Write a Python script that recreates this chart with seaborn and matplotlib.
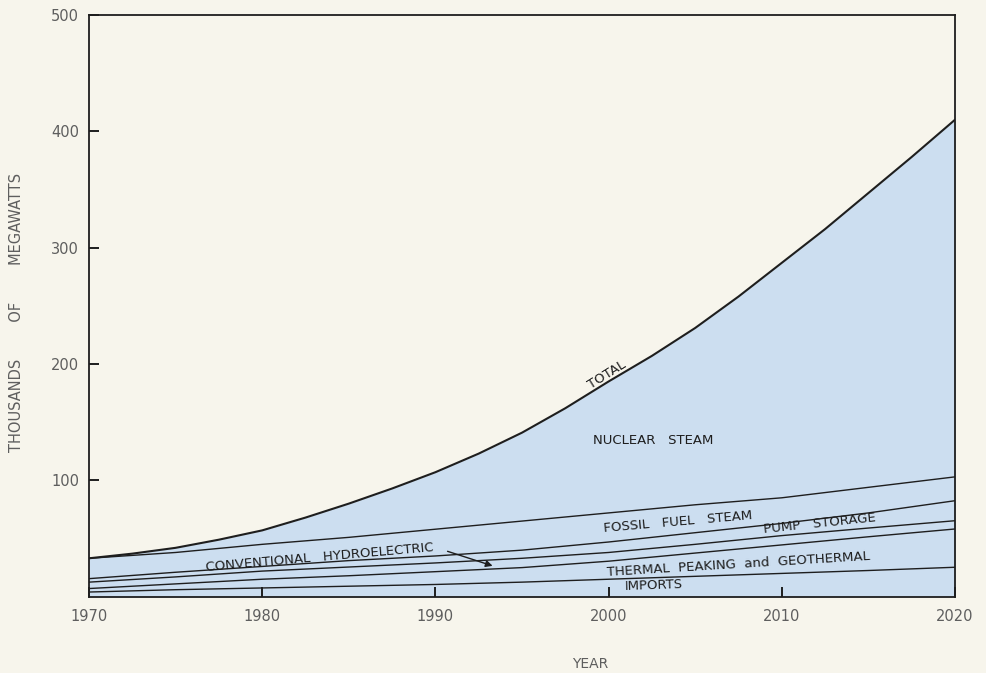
import numpy as np
import pandas as pd
import matplotlib
matplotlib.use("Agg")
import matplotlib.pyplot as plt
import seaborn as sns

# ---- data (thousands of megawatts) ----
years = [1970, 1975, 1980, 1985, 1990, 1995, 2000, 2005, 2010, 2015, 2020]
imports = [4, 6, 7.5, 9, 10.5, 12.5, 15, 17.5, 20, 22.5, 25.3]
thermal_peaking = [3, 5, 7.5, 9, 11, 12.5, 15.5, 20, 24.5, 29, 32.9]
conventional_hydro = [5.5, 6, 7, 7.5, 7.5, 8, 7.5, 7.5, 8, 7.5, 7.1]
pump_storage = [3, 4, 4, 5.5, 6, 7, 9, 10, 10.5, 13, 17.2]
fossil_steam = [17.5, 17, 19, 20, 23, 25, 25, 24, 22, 22, 20.5]

# total (top of nuclear steam band), read at half-decade steps
total_years = [1970, 1972.5, 1975, 1977.5, 1980, 1982.5, 1985, 1987.5, 1990,
               1992.5, 1995, 1997.5, 2000, 2002.5, 2005, 2007.5, 2010,
               2012.5, 2015, 2017.5, 2020]
total = [33, 37, 42, 49, 57, 68, 80, 93, 107, 123, 141, 162, 185, 207, 231,
         258, 287, 316, 347, 378, 410]

x_ticks = [1970, 1980, 1990, 2000, 2010, 2020]
y_ticks = [100, 200, 300, 400, 500]

BG = "#f7f5ec"
FILL = "#ccdef0"
INK = "#1e1e1e"
GREY = "#5e5e5e"

sns.set_theme(style="white")
plt.rcParams["font.family"] = ["DejaVu Sans"]

df = pd.DataFrame({
    "year": years,
    "imports": imports,
    "thermal": thermal_peaking,
    "hydro": conventional_hydro,
    "pump": pump_storage,
    "fossil": fossil_steam,
})
order = ["imports", "thermal", "hydro", "pump", "fossil"]
cum = df[order].cumsum(axis=1)
dt = pd.DataFrame({"year": total_years, "total": total})

fig = plt.figure(figsize=(9.87, 6.73), dpi=100, facecolor=BG)
ax = fig.add_axes([0.0902, 0.1134, 0.8774, 0.8643])
ax.set_facecolor(BG)
ax.set_axisbelow(False)

ax.fill_between(dt["year"], 0, dt["total"], color=FILL, lw=0, zorder=1)
for col in order:
    sns.lineplot(x=df["year"], y=cum[col], ax=ax, color=INK, lw=1.0, zorder=3)
sns.lineplot(x=dt["year"], y=dt["total"], ax=ax, color=INK, lw=1.5, zorder=3)

ax.set_xlim(1970, 2020)
ax.set_ylim(0, 500)
ax.set_xticks(x_ticks)
ax.set_xticklabels([str(v) for v in x_ticks])
ax.set_yticks(y_ticks)
ax.set_yticklabels([str(v) for v in y_ticks])
ax.tick_params(axis="both", which="major", direction="in", length=7,
               width=1.4, color=INK, labelsize=10.5, labelcolor=GREY,
               left=True, bottom=True, right=False, top=False)
ax.tick_params(axis="y", pad=7)
ax.tick_params(axis="x", pad=9)
ax.set_xlabel("")
ax.set_ylabel("")
for s in ax.spines.values():
    s.set_visible(True)
    s.set_color(INK)
    s.set_linewidth(1.3)

lab = dict(color=INK, fontsize=9.5, zorder=5)
ax.text(2000.1, 186, "TOTAL", rotation=32, rotation_mode="anchor",
        ha="center", va="bottom", **lab)
ax.text(2002.6, 134, "NUCLEAR   STEAM", ha="center", va="center", **lab)
ax.text(2004.0, 64.5, "FOSSIL   FUEL   STEAM", rotation=5, rotation_mode="anchor",
        ha="center", va="center", **lab)
ax.text(2012.2, 63.0, "PUMP   STORAGE", rotation=6, rotation_mode="anchor",
        ha="center", va="center", **lab)
ax.text(2007.5, 27.5, "THERMAL  PEAKING  and  GEOTHERMAL", rotation=3.5,
        rotation_mode="anchor", ha="center", va="center", **lab)
ax.text(2002.6, 9.3, "IMPORTS", rotation=2, rotation_mode="anchor",
        ha="center", va="center", **lab)
ax.text(1983.3, 33.5, "CONVENTIONAL   HYDROELECTRIC", rotation=5,
        rotation_mode="anchor", ha="center", va="center", **lab)
ax.annotate("", xy=(1993.3, 26.5), xytext=(1990.7, 39.0),
            arrowprops=dict(arrowstyle="-|>", color=INK, lw=1.0,
                            mutation_scale=10, shrinkA=0, shrinkB=0),
            zorder=5)

fig.text(17 / 987, 1 - 312 / 673, "THOUSANDS        OF        MEGAWATTS",
         rotation=90, ha="center", va="center", fontsize=10.5, color=GREY)
fig.text(590 / 987, 1 - 664 / 673, "YEAR", ha="center", va="center",
         fontsize=10, color=GREY)

fig.savefig("out.png", dpi=100, facecolor=BG)
